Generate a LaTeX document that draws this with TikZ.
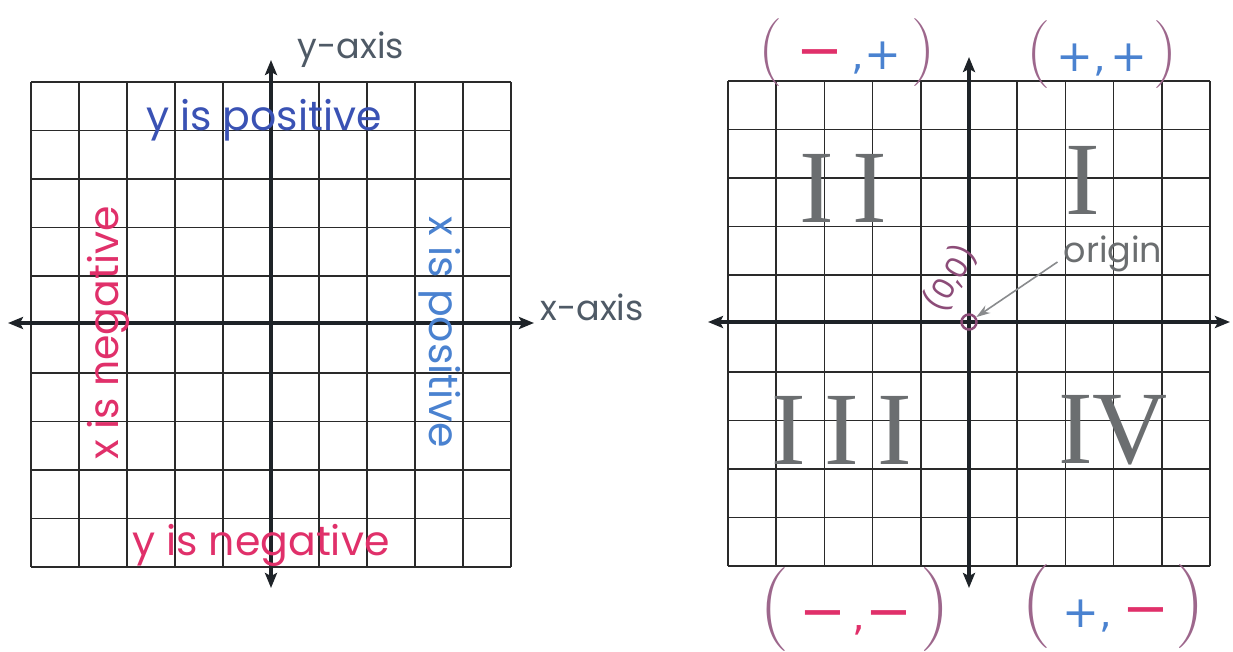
\documentclass[tikz,border=0pt]{standalone}
\usepackage{fontspec}
\newfontfamily\hand{Poppins}
\newfontfamily\numfont{Liberation Serif}
\newfontfamily\symfont{DejaVu Sans}
\usetikzlibrary{arrows.meta,positioning}
\definecolor{cgInk}{HTML}{1E2328}
\definecolor{cgGrid}{HTML}{2A2A2A}
\definecolor{cgBlue}{HTML}{3A52B4}
\definecolor{cgSky}{HTML}{4A82D0}
\definecolor{cgRose}{HTML}{E0306A}
\definecolor{cgPlum}{HTML}{8C4C78}
\definecolor{cgSlate}{HTML}{4F5A66}
\definecolor{cgLead}{HTML}{6B6E70}
\newcommand{\mns}{{\symfont\fontsize{56}{56}\selectfont\color{cgRose}−}}
\newcommand{\pls}{{\symfont\fontsize{44}{44}\selectfont\color{cgSky}+}}
\newcommand{\cma}[1]{{\symfont\fontsize{40}{40}\selectfont\color{#1},}}
\newcommand{\qlp}[1]{{\fontsize{#1}{#1}\selectfont\color{cgPlum!85}(}}
\newcommand{\qrp}[1]{{\fontsize{#1}{#1}\selectfont\color{cgPlum!85})}}
\tikzset{
  gridline/.style ={cgGrid,line width=1.5pt},
  axis/.style     ={{Stealth[length=15pt,width=12pt,inset=3pt]}-{Stealth[length=15pt,width=12pt,inset=3pt]},
                    cgInk,line width=3.5pt},
  axlbl/.style    ={font=\hand\fontsize{35}{38}\selectfont,text=cgSlate,inner sep=0pt},
  hint/.style     ={font=\hand\fontsize{41}{44}\selectfont,inner sep=0pt},
  numeral/.style  ={font=\numfont\fontsize{104}{110}\selectfont,text=cgLead,inner sep=0pt},
  spaced/.style   ={font=\numfont\fontsize{104}{110}\selectfont\addfontfeatures{LetterSpace=18}},
  sign/.style     ={inner sep=0pt},
  pointer/.style  ={-{Stealth[length=14pt,width=9pt]},cgLead!80,line width=1.6pt},
}
\begin{document}
\begin{tikzpicture}[x=1pt,y=-1pt]
\useasboundingbox (0,0) rectangle (1233,651);
%% the two grids
\foreach \gx/\gy/\cw in {31/82/48,728/81/48.2}{
  \foreach \i in {0,...,10}{
    \draw[gridline] (\gx+\cw*\i,\gy) -- (\gx+\cw*\i,\gy+485);
    \draw[gridline] (\gx,\gy+48.5*\i) -- (\gx+10*\cw,\gy+48.5*\i);
  }
}
\draw[axis] (8,323) -- (534,323);
\draw[axis] (271,588) -- (271,60);
\draw[axis] (708,322) -- (1230,322);
\draw[axis] (969,588) -- (969,57);

%% left: signs of x and y
\node[axlbl] (yax) at (351,50) {y-axis};
\node[axlbl] (xax) at (592,307) {x-axis};
\node[hint,text=cgBlue] (ypos) at (264,120) {y is positive};
\node[hint,text=cgRose] (yneg) at (261,545) {y is negative};
\node[hint,text=cgRose,rotate=90] (xneg) at (108,333) {x is negative};
\node[hint,text=cgSky,rotate=-90] (xpos) at (440,332) {x is positive};

%% right: quadrants
\node[numeral,spaced] (qII) at (843,188) {II};
\node[numeral] (qI) at (1083,180) {I};
\node[numeral,spaced] (qIII) at (842,430) {III};
\node[numeral] (qIV) at (1113,430) {IV};

\node[sign] (sNW) at (847,53) {\qlp{68}\hspace{14pt}\mns\hspace{8pt}\cma{cgSky}\pls\hspace{10pt}\qrp{68}};
\node[sign] (sNE) at (1102,55) {\qlp{68}\hspace{6pt}\pls\cma{cgSky}\hspace{4pt}\pls\hspace{6pt}\qrp{68}};
\node[sign] (sSW) at (855,610) {\qlp{84}\hspace{10pt}\mns\hspace{6pt}\cma{cgRose}\mns\hspace{8pt}\qrp{84}};
\node[sign] (sSE) at (1113,607) {\qlp{84}\hspace{12pt}\pls\cma{cgSky}\hspace{10pt}\mns\hspace{6pt}\qrp{84}};

\node[circle,draw=cgPlum,line width=2.5pt,minimum size=15pt,inner sep=0pt] (org) at (969,322) {};
\node[font=\hand\fontsize{30}{32}\selectfont,text=cgPlum,rotate=60,inner sep=0pt] (zero) at (950,278) {(0,0)};
\node[axlbl,text=cgLead] (orgtxt) at (1113,254) {origin};
\draw[pointer] ([xshift=-6pt,yshift=-8pt]orgtxt.west) -- (org);
\end{tikzpicture}
\end{document}
